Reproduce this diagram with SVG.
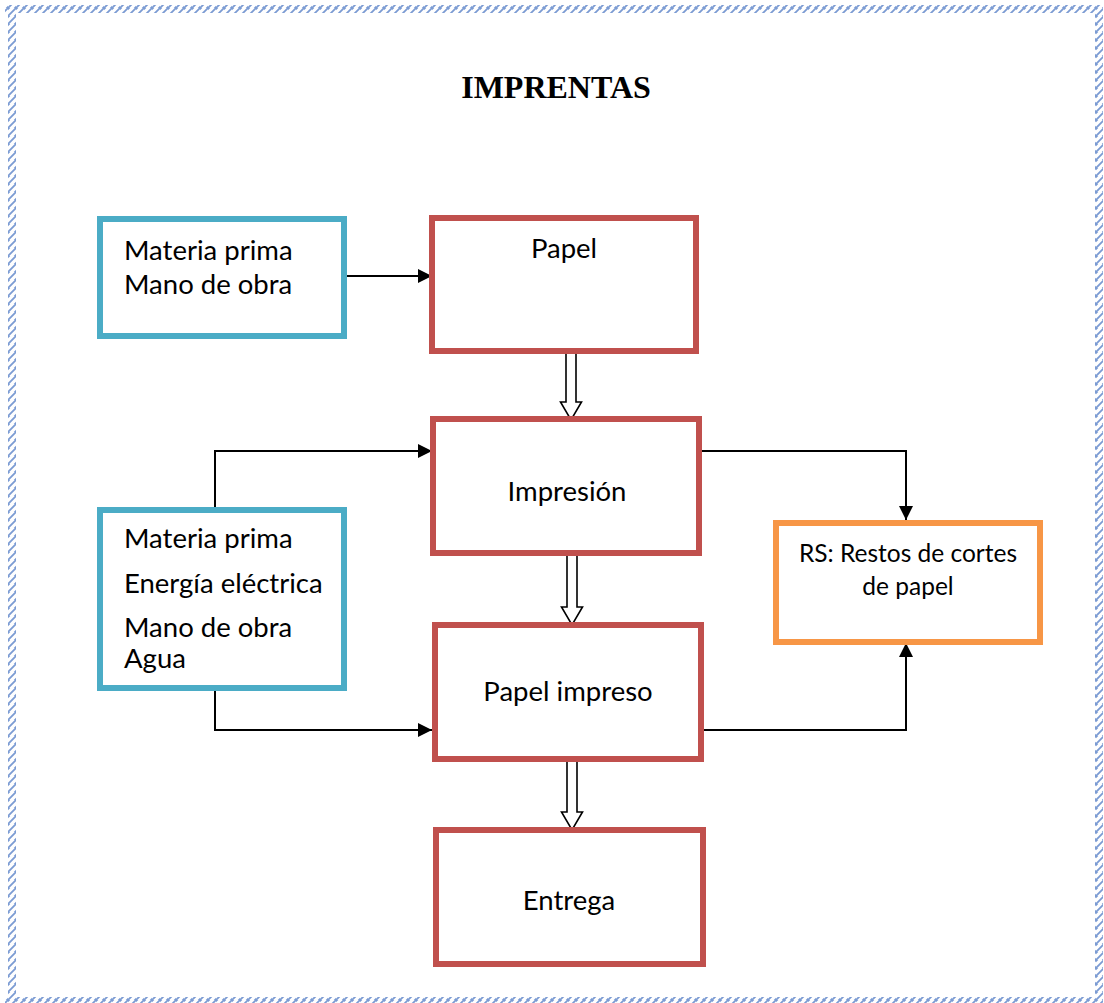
<svg xmlns="http://www.w3.org/2000/svg" width="1104" height="1003" viewBox="0 0 1104 1003">
<defs>
<style>
.txt{font-family:Lato,"Open Sans","Liberation Sans",sans-serif;font-size:27.5px;fill:#000}
.sm{font-size:24.5px}
.mid{text-anchor:middle}
.in{fill:#fff;stroke:#4bacc6;stroke-width:6}
.proc{fill:#fff;stroke:#c0504d;stroke-width:6}
.out{fill:#fff;stroke:#f79646;stroke-width:6}
.conn{fill:none;stroke:#000;stroke-width:2}
.block{fill:#fff;stroke:#000;stroke-width:1.6;stroke-linejoin:miter}
</style>
<marker id="ah" viewBox="0 0 14 14" refX="14" refY="7" markerWidth="14" markerHeight="14" markerUnits="userSpaceOnUse" orient="auto">
<path d="M0,0 L14,7 L0,14 Z" fill="#000"/>
</marker>
<pattern id="hatch" width="8" height="8" patternUnits="userSpaceOnUse">
<rect width="8" height="8" fill="#fff"/>
<path d="M-1,9 L9,-1 M-2,3 L3,-2 M5,10 L10,5" stroke="#7b9bd3" stroke-width="1.8"/>
</pattern>
</defs>
<rect width="1104" height="1003" fill="#fff"/>
<g id="border" fill="url(#hatch)">
<rect x="5" y="5" width="1098" height="8"/>
<rect x="8" y="5" width="8" height="998"/>
<rect x="1095" y="5" width="8" height="998"/>
<rect x="5" y="997" width="1098" height="6"/>
</g>
<text x="556" y="98" text-anchor="middle" font-family="'Liberation Serif','Times New Roman',serif" font-weight="bold" font-size="32">IMPRENTAS</text>
<g id="connectors">
<line class="conn" x1="344" y1="276" x2="432" y2="276" marker-end="url(#ah)"/>
<polyline class="conn" points="215,507 215,451 432,451" marker-end="url(#ah)"/>
<polyline class="conn" points="215,691 215,730 432,730" marker-end="url(#ah)"/>
<polyline class="conn" points="701,451 906,451 906,520" marker-end="url(#ah)"/>
<polyline class="conn" points="701,730 906,730 906,643" marker-end="url(#ah)"/>
<polygon class="block" points="566,353 576,353 576,402 581.5,402 571,420 560.5,402 566,402"/>
<polygon class="block" points="567,554 577,554 577,607 582.5,607 572,625 561.5,607 567,607"/>
<polygon class="block" points="567,759 577,759 577,812 582.5,812 572,830 561.5,812 567,812"/>
</g>
<g id="n-inputs1">
<rect class="in" x="100" y="219" width="244" height="117"/>
<text class="txt" x="124" y="260">Materia prima</text>
<text class="txt" x="124" y="294">Mano de obra</text>
</g>
<g id="n-papel">
<rect class="proc" x="432" y="218" width="264" height="133"/>
<text class="txt mid" x="564" y="258">Papel</text>
</g>
<g id="n-impresion">
<rect class="proc" x="433" y="419" width="266" height="134"/>
<text class="txt mid" x="567" y="501">Impresión</text>
</g>
<g id="n-inputs2">
<rect class="in" x="100" y="510" width="244" height="178"/>
<text class="txt" x="124" y="548">Materia prima</text>
<text class="txt" x="124" y="593">Energía eléctrica</text>
<text class="txt" x="124" y="637">Mano de obra</text>
<text class="txt" x="124" y="668">Agua</text>
</g>
<g id="n-impreso">
<rect class="proc" x="435" y="625" width="266" height="134"/>
<text class="txt mid" x="568" y="701">Papel impreso</text>
</g>
<g id="n-rs">
<rect class="out" x="776" y="523" width="264" height="119"/>
<text class="txt sm mid" x="908" y="562">RS: Restos de cortes</text>
<text class="txt sm mid" x="908" y="595">de papel</text>
</g>
<g id="n-entrega">
<rect class="proc" x="436" y="830" width="267" height="134"/>
<text class="txt mid" x="569" y="910">Entrega</text>
</g>
</svg>
